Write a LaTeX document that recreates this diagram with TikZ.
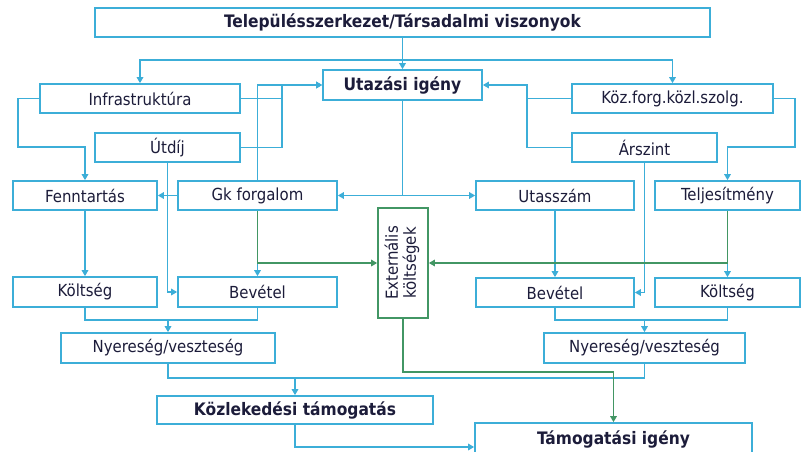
\documentclass[tikz,border=0pt]{standalone}
\usepackage{fontspec}
\usepackage{graphicx}
\setmainfont{DejaVu Sans Condensed}
\usetikzlibrary{arrows.meta}
\definecolor{lb}{RGB}{60,174,216}
\definecolor{gr}{RGB}{66,150,100}
\definecolor{tx}{RGB}{28,28,58}
\begin{document}
\begin{tikzpicture}[x=1pt,y=-1pt,
  box/.style={draw=lb, line width=1.7pt, fill=white, text=tx,
    font=\fontsize{16.6}{19}\selectfont, inner sep=0pt, minimum height=29pt},
  bbox/.style={box, font=\fontsize{17.2}{19}\selectfont\bfseries},
  gbox/.style={draw=gr, line width=1.7pt, fill=white, text=tx,
    font=\fontsize{16.6}{19}\selectfont, inner sep=0pt},
  ln/.style={draw=lb, line width=1.7pt},
  arr/.style={ln, -{Triangle[width=6.5pt,length=6pt]}},
  gln/.style={draw=gr, line width=1.7pt},
  garr/.style={gln, -{Triangle[width=6.5pt,length=6pt]}}
]
\useasboundingbox (0,0) rectangle (803,451);
\fill[white] (0,0) rectangle (803,451);

\coordinate (j1) at (402.5,60);
\coordinate (cL) at (168,320);
\coordinate (cR) at (644.5,320);
\coordinate (cB) at (295,378);
\coordinate (vL) at (282,85);
\coordinate (vR) at (527,85);

% nodes
\node[bbox, minimum width=615pt] (top) at (402.5,22.5) {Településszerkezet/Társadalmi viszonyok};
\node[bbox, minimum width=159pt, minimum height=30pt] (utaz) at (402.5,85) {Utazási igény};
\node[box, minimum width=200pt] (infra) at (140,98.5) {Infrastruktúra};
\node[box, minimum width=145pt] (utdij) at (167.5,147.5) {Útdíj};
\node[box, minimum width=144pt] (fenn) at (85,195.5) {Fenntartás};
\node[box, minimum width=159pt] (gk) at (257.5,195.5) {Gk forgalom};
\node[box, minimum width=201pt] (kozforg) at (672.5,98.5) {Köz.forg.közl.szolg.};
\node[box, minimum width=145pt] (arszint) at (644.5,147.5) {Árszint};
\node[box, minimum width=158pt] (utasszam) at (555,195.5) {Utasszám};
\node[box, minimum width=145pt] (telj) at (727.5,195.5) {Teljesítmény};
\node[box, minimum width=144pt, minimum height=30pt] (koltL) at (85,292) {Költség};
\node[box, minimum width=159pt, minimum height=30pt] (bevL) at (257.5,292) {Bevétel};
\node[box, minimum width=158pt] (bevR) at (555,292.5) {Bevétel};
\node[box, minimum width=145pt] (koltR) at (727.5,292.5) {Költség};
\node[box, minimum width=214pt, minimum height=30pt] (nyerL) at (168,348) {Nyereség/veszteség};
\node[box, minimum width=201pt, minimum height=30pt] (nyerR) at (644.5,348) {Nyereség/veszteség};
\node[bbox, minimum width=276pt, minimum height=28pt] (kozl) at (295,410) {Közlekedési támogatás};
\node[bbox, minimum width=277pt, minimum height=32pt] (tamog) at (613.5,439) {Támogatási igény};
\node[gbox, minimum width=50pt, minimum height=110pt] (ext) at (403,263)
  {\rotatebox{90}{\begin{tabular}{@{}c@{}}Externális\\[-1pt]költségek\end{tabular}}};

% top distribution
\draw[arr] (top.south) -- (utaz.north);
\draw[ln] (top.south) -- (j1);
\draw[arr] (j1) -| (infra.north);
\draw[arr] (j1) -| (kozforg.north);

% left upper
\draw[arr] (infra.west) -| (18,147) -| (fenn.north);
\draw[ln] (infra.east) -- (vL |- infra.east);
\draw[arr] (utdij.east) -| (vL) -- (utaz.west);
\draw[arr] (gk.north) |- (utaz.west);
\draw[arr] (utdij.south) |- (bevL.west);
\draw[arr] (gk.west) -- (fenn.east);

% from Utazasi igeny down
\coordinate (j2) at (utaz.south |- gk.east);
\draw[ln] (utaz.south) -- (j2);
\draw[arr] (j2) -- (gk.east);
\draw[arr] (j2) -- (utasszam.west);

% right upper
\draw[ln] (kozforg.west) -- (vR |- kozforg.west);
\draw[arr] (arszint.west) -| (vR) -- (utaz.east);
\draw[arr] (kozforg.east) -| (795,147) -| (telj.north);
\draw[arr] (arszint.south) |- (bevR.east);

% verticals to lower boxes
\draw[arr] (fenn.south) -- (koltL.north);
\draw[arr] (gk.south) -- (bevL.north);
\draw[arr] (utasszam.south) -- (bevR.north);
\draw[arr] (telj.south) -- (koltR.north);

% green to externalis
\draw[garr] (gk.south) |- (ext.west);
\draw[garr] (telj.south) |- (ext.east);

% sums
\draw[ln] (koltL.south) |- (cL) -| (bevL.south);
\draw[arr] (cL) -- (nyerL.north);
\draw[ln] (bevR.south) |- (cR) -| (koltR.south);
\draw[arr] (cR) -- (nyerR.north);
\draw[ln] (nyerL.south) |- (cB) -| (nyerR.south);
\draw[arr] (cB) -- (kozl.north);
\draw[arr] (kozl.south) |- ([yshift=-8pt]tamog.west);
\draw[garr] (ext.south) -- ++(0,53) -| (tamog.north);
\end{tikzpicture}
\end{document}
